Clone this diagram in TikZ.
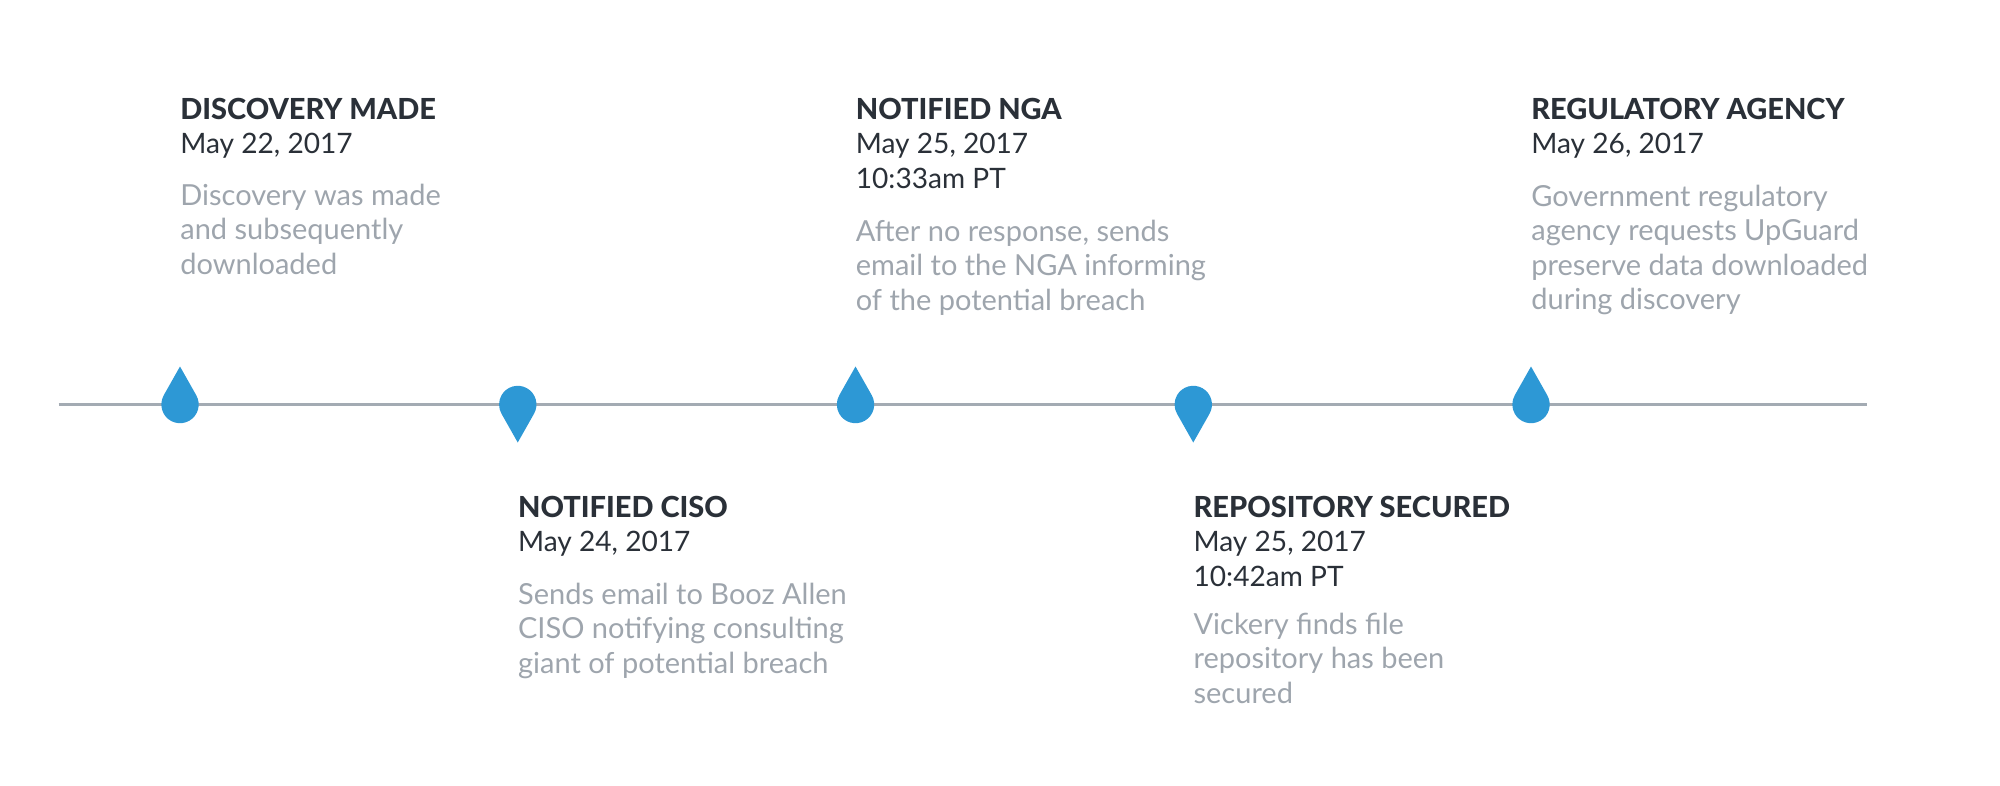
\documentclass[tikz,border=0pt]{standalone}
\usepackage{fontspec}
\setmainfont{Lato}
\newfontfamily\heavyfont{Lato Heavy}
\usepackage{xcolor}
\definecolor{dropblue}{HTML}{2D98D5}
\definecolor{headdark}{HTML}{2A3038}
\definecolor{descgray}{HTML}{9EA5AD}
\definecolor{axisgray}{HTML}{A3ABB3}
\newcommand{\evtitle}[1]{{\heavyfont\fontsize{16.5}{19.6}\selectfont #1}}

\tikzset{
    head/.style={anchor=base west, inner sep=0pt, align=left, text=headdark,
        font=\fontsize{16}{19.6}\selectfont},
    desc/.style={anchor=base west, inner sep=0pt, align=left, text=descgray,
        font=\fontsize{16.5}{19.6}\selectfont},
    pics/dropup/.style={code={
        \fill[dropblue] (29.5:18.7) arc[start angle=29.5, end angle=-209.5, radius=18.7] -- (0,38) -- cycle;}},
    pics/dropdown/.style={code={
        \fill[dropblue] (-29.5:18.7) arc[start angle=-29.5, end angle=209.5, radius=18.7] -- (0,-38) -- cycle;}}
}

\begin{document}
\begin{tikzpicture}[x=0.02cm, y=0.02cm]
    \useasboundingbox (0,404.5) rectangle (2000,-380.5);
    % time axis
    \coordinate (start) at (58.7,0);
    \coordinate (end) at (1866.7,0);
    \draw[axisgray, line width=1.4pt] (start) -- (end);
    % event markers
    \foreach \i in {1,...,5} {
        \coordinate (m\i) at ({180+337.75*(\i-1)},0);
    }
    \pic at (m1) {dropup};
    \pic at (m2) {dropdown};
    \pic at (m3) {dropup};
    \pic at (m4) {dropdown};
    \pic at (m5) {dropup};
    % events above the axis (nodes sit on the baseline of their last line)
    \node[head] (h1) at ([yshift=250.5*0.02cm]m1) {\evtitle{DISCOVERY MADE}\\May 22, 2017};
    \node[desc] (d1) at ([yshift=130.2*0.02cm]m1) {Discovery was made\\and subsequently\\downloaded};
    \node[head] (h3) at ([yshift=216.2*0.02cm]m3) {\evtitle{NOTIFIED NGA}\\May 25, 2017\\10:33am PT};
    \node[desc] (d3) at ([yshift=94.5*0.02cm]m3) {After no response, sends\\email to the NGA informing\\of the potential breach};
    \node[head] (h5) at ([yshift=250.5*0.02cm]m5) {\evtitle{REGULATORY AGENCY}\\May 26, 2017};
    \node[desc] (d5) at ([yshift=95*0.02cm]m5) {Government regulatory\\agency requests UpGuard\\preserve data downloaded\\during discovery};
    % events below the axis
    \node[head] (h2) at ([yshift=-147.2*0.02cm]m2) {\evtitle{NOTIFIED CISO}\\May 24, 2017};
    \node[desc] (d2) at ([yshift=-268.5*0.02cm]m2) {Sends email to Booz Allen\\CISO notifying consulting\\giant of potential breach};
    \node[head] (h4) at ([yshift=-181.5*0.02cm]m4) {\evtitle{REPOSITORY SECURED}\\May 25, 2017\\10:42am PT};
    \node[desc] (d4) at ([yshift=-298.5*0.02cm]m4) {Vickery finds file\\repository has been\\secured};
\end{tikzpicture}
\end{document}
